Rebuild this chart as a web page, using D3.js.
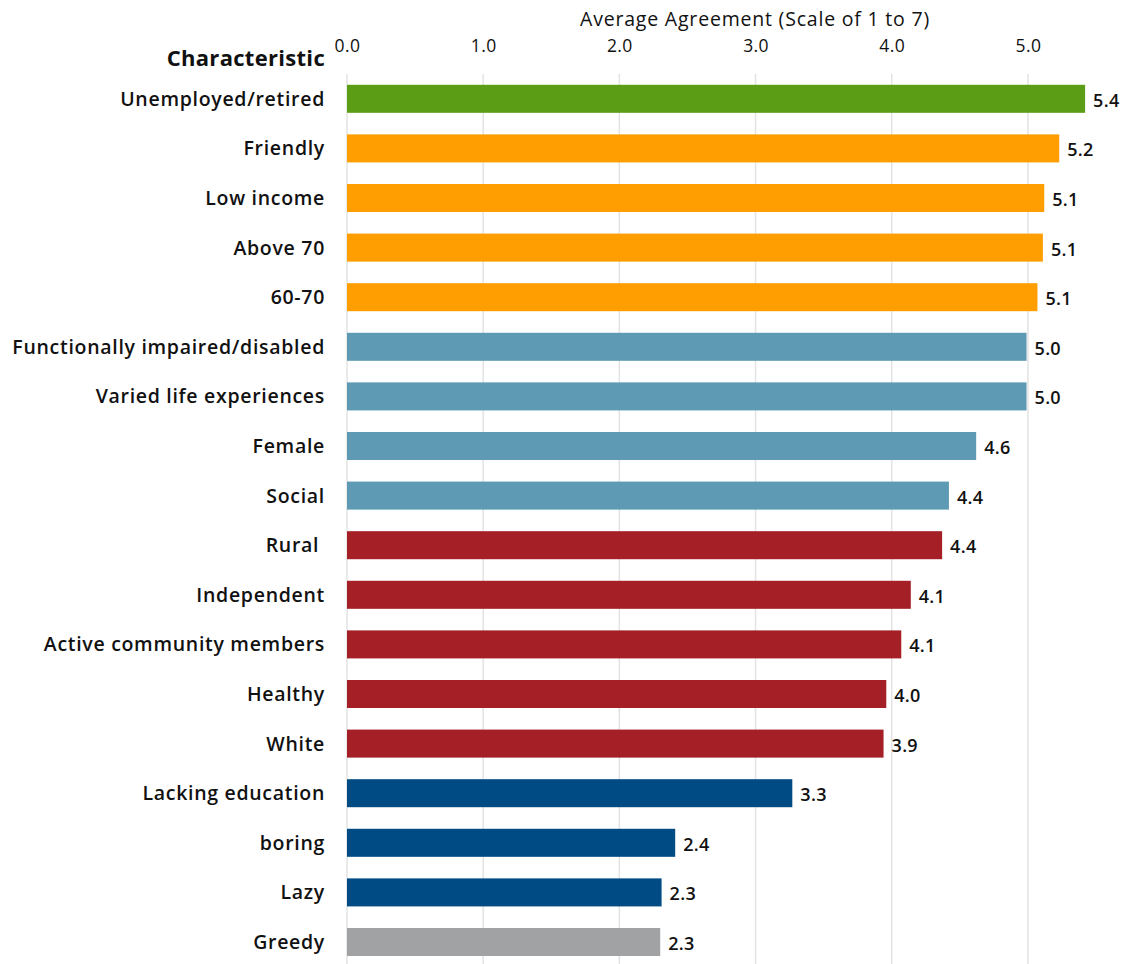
<!DOCTYPE html>
<html>
<head>
<meta charset="utf-8">
<script src="https://cdn.jsdelivr.net/npm/d3@7"></script>
<style>
  html, body { margin: 0; padding: 0; background: #fff; }
  svg { display: block; font-family: "Open Sans", "Noto Sans", sans-serif; }
</style>
</head>
<body>
<svg id="chart" width="1125" height="964"></svg>
<script>
// Characteristics, top to bottom
const categories = [
  "Unemployed/retired", "Friendly", "Low income", "Above 70", "60-70",
  "Functionally impaired/disabled", "Varied life experiences", "Female", "Social",
  "Rural ", "Independent", "Active community members", "Healthy", "White",
  "Lacking education", "boring", "Lazy", "Greedy"
];
// Average agreement per characteristic
const values = [
  5.42, 5.23, 5.12, 5.11, 5.07,
  4.99, 4.99, 4.62, 4.42,
  4.37, 4.14, 4.07, 3.96, 3.94,
  3.27, 2.41, 2.31, 2.30
];
// Colour group per characteristic
const groups = [
  "g", "o", "o", "o", "o",
  "t", "t", "t", "t",
  "r", "r", "r", "r", "r",
  "n", "n", "n", "x"
];
const tickValues = [0, 1, 2, 3, 4, 5];
const axisTitle = "Average Agreement (Scale of 1 to 7)";
const rowHeader = "Characteristic";

const palette = {
  g: "#5b9e16", o: "#ff9e00", t: "#5f9ab4",
  r: "#a51f27", n: "#004b83", x: "#a1a2a4"
};

const svg = d3.select("#chart");
const plotLeft = 347, plotRight = 1096, plotTop = 74, plotBottom = 964;

const x = d3.scaleLinear().domain([0, 5.5]).range([plotLeft, plotRight]);
const y = d3.scaleBand().domain(categories).range([plotTop, plotTop + 49.6 * categories.length])
  .paddingInner(0.435).paddingOuter(0.2175);

// vertical gridlines
svg.append("g").selectAll("line").data(tickValues).join("line")
  .attr("x1", d => x(d)).attr("x2", d => x(d))
  .attr("y1", plotTop).attr("y2", plotBottom)
  .attr("stroke", "#e3e3e3").attr("stroke-width", 1.5);

// top axis tick labels
const axis = d3.axisTop(x).tickValues(tickValues).tickFormat(d3.format(".1f")).tickSize(0).tickPadding(0);
const ag = svg.append("g").attr("transform", `translate(0,52)`).call(axis);
ag.select(".domain").remove();
ag.selectAll("text").attr("font-size", 17.5).attr("fill", "#111")
  .attr("letter-spacing", 0.4)
  .attr("font-family", "'Open Sans', sans-serif");

svg.append("text").attr("x", 755).attr("y", 26).attr("text-anchor", "middle")
  .attr("font-size", 19.5).attr("letter-spacing", 0.8).attr("font-weight", 500)
  .attr("fill", "#111").text(axisTitle);

svg.append("text").attr("x", 325).attr("y", 66).attr("text-anchor", "end")
  .attr("font-size", 22).attr("font-weight", 700).attr("letter-spacing", 0.3)
  .attr("fill", "#111").text(rowHeader);

// bars
svg.append("g").selectAll("rect").data(values).join("rect")
  .attr("x", x(0))
  .attr("y", (d, i) => y(categories[i]))
  .attr("width", d => x(d) - x(0))
  .attr("height", y.bandwidth())
  .attr("fill", (d, i) => palette[groups[i]]);

// category labels (trailing spaces kept)
svg.append("g").selectAll("text").data(categories).join("text")
  .attr("xml:space", "preserve")
  .attr("x", 325)
  .attr("y", d => y(d) + y.bandwidth() / 2 + 7)
  .attr("text-anchor", "end")
  .attr("font-size", 19.5).attr("font-weight", 600).attr("letter-spacing", 0.7)
  .attr("fill", "#111")
  .text(d => d);

// value labels
svg.append("g").selectAll("text").data(values).join("text")
  .attr("x", d => x(d) + 8)
  .attr("y", (d, i) => y(categories[i]) + y.bandwidth() / 2 + 8)
  .attr("font-size", 18).attr("font-weight", 600).attr("letter-spacing", 0.3)
  .attr("fill", "#111")
  .text(d => d.toFixed(1));
</script>
</body>
</html>
